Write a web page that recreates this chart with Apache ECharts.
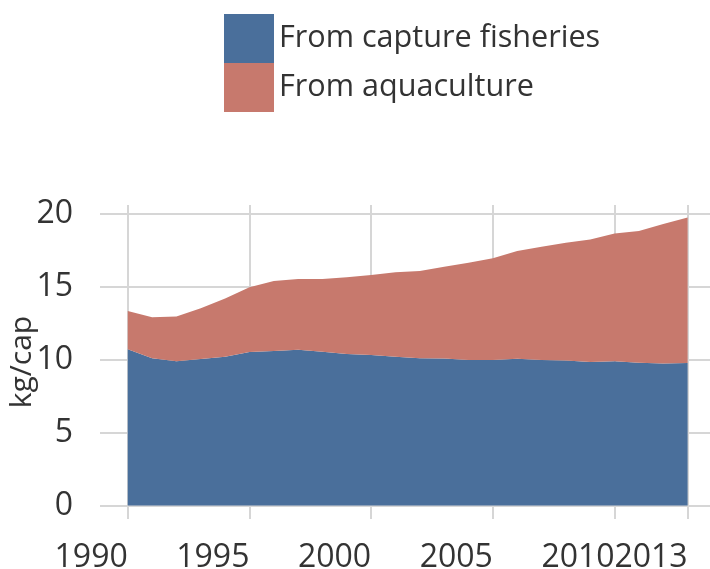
<!DOCTYPE html>
<html>
<head>
<meta charset="utf-8">
<script src="https://cdn.jsdelivr.net/npm/echarts@6/dist/echarts.min.js"></script>
<style>
html,body{margin:0;padding:0;background:#fff;}
#c{width:710px;height:569px;}
</style>
</head>
<body>
<div id="c"></div>
<script>
const years = [1990,1991,1992,1993,1994,1995,1996,1997,1998,1999,2000,2001,2002,2003,2004,2005,2006,2007,2008,2009,2010,2011,2012,2013];
const capture = [10.72,10.10,9.89,10.05,10.21,10.53,10.60,10.69,10.55,10.39,10.33,10.21,10.10,10.08,9.98,9.98,10.07,9.98,9.94,9.85,9.89,9.80,9.75,9.77];
const aquaculture = [2.62,2.81,3.07,3.48,4.00,4.44,4.80,4.85,4.99,5.27,5.48,5.79,5.99,6.30,6.68,6.98,7.39,7.78,8.09,8.41,8.78,9.03,9.56,10.00];
const xTicks = [1990,1995,2000,2005,2010,2013];
const yTicks = [0,5,10,15,20];
const seriesNames = ['From capture fisheries','From aquaculture'];

const FONT = '"Open Sans", "Noto Sans", sans-serif';
const chart = echarts.init(document.getElementById('c'), null, {renderer:'canvas'});
const gridColor = '#d6d6d6';
chart.setOption({
  animation:false,
  color:['#4a6f9b','#c7796d'],
  legend:{
    orient:'vertical', left:224, top:14, padding:0, itemGap:0, itemWidth:50, itemHeight:49,
    icon:'rect',
    textStyle:{fontFamily:FONT, fontSize:30.6, color:'#333'},
    data:seriesNames
  },
  grid:{left:100, right:0, top:205, bottom:50, containLabel:false, outerBoundsMode:'none'},
  xAxis:{
    type:'value', min:1988.86, max:2013.92,
    axisLine:{show:false},
    axisTick:{show:false, customValues:xTicks},
    axisLabel:{customValues:xTicks, hideOverlap:false, showMinLabel:true, showMaxLabel:true,
      fontFamily:FONT, fontSize:32, color:'#333', align:'right', margin:23, formatter:v=>String(v)},
    splitLine:{show:true, lineStyle:{color:gridColor, width:2}}
  },
  yAxis:{
    type:'value', min:-0.93, max:20.62,
    name:'kg/cap', nameLocation:'middle', nameRotate:90, nameGap:63, nameMoveOverlap:false,
    nameTextStyle:{fontFamily:FONT, fontSize:30, color:'#333'},
    axisLine:{show:false},
    axisTick:{show:false, customValues:yTicks},
    axisLabel:{customValues:yTicks, fontFamily:FONT, fontSize:32, color:'#333', margin:27},
    splitLine:{show:true, lineStyle:{color:gridColor, width:2}}
  },
  series:[
    {name:seriesNames[0], type:'line', stack:'t', symbol:'none', lineStyle:{width:0}, areaStyle:{opacity:1},
     encode:{x:1, y:0},
     data:years.map((y,i)=>[capture[i], y])},
    {name:seriesNames[1], type:'line', stack:'t', symbol:'none', lineStyle:{width:0}, areaStyle:{opacity:1},
     encode:{x:1, y:0},
     data:years.map((y,i)=>[aquaculture[i], y])}
  ]
});
</script>
</body>
</html>
